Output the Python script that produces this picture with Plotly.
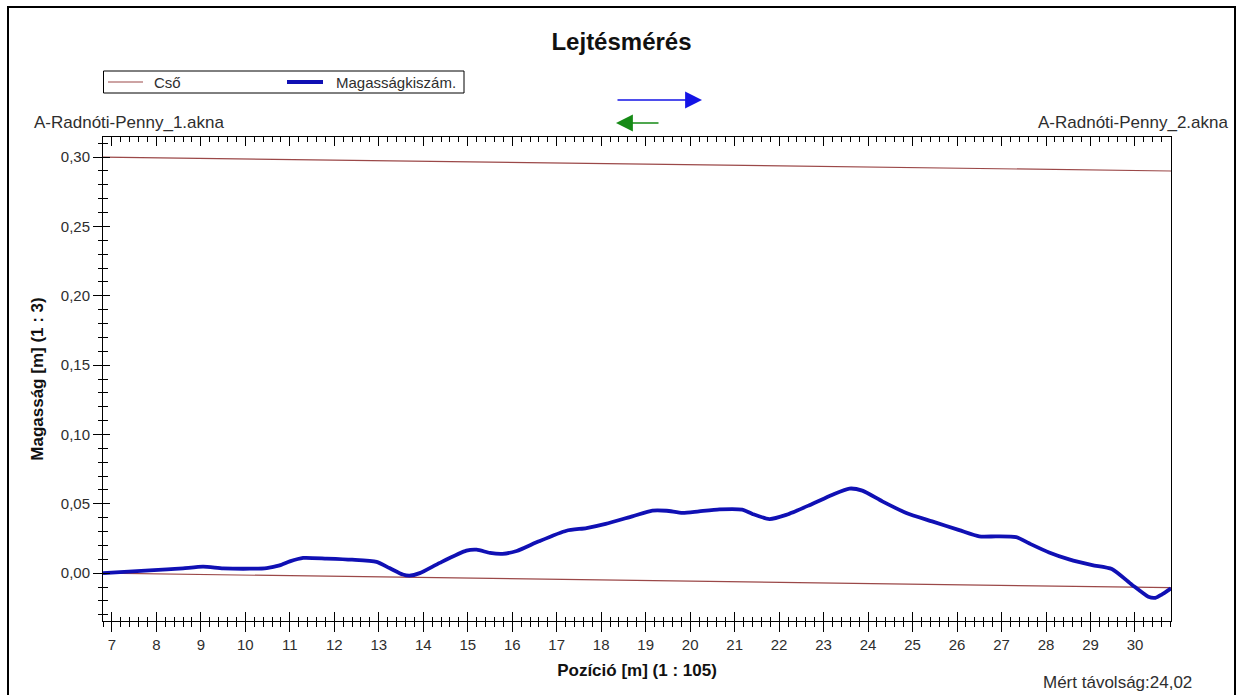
import plotly.graph_objects as go

# ---- data ----
position_m = [6.8, 7.47, 8.24, 8.6, 9.05, 9.5, 10.1, 10.48, 10.77, 11.0, 11.3, 11.83, 12.4,
              12.95, 13.24, 13.54, 13.69, 13.92, 14.37, 14.97, 15.2, 15.5, 15.78, 16.1, 16.6,
              17.22, 17.67, 18.1, 18.7, 19.15, 19.47, 19.83, 20.2, 20.66, 21.17, 21.4, 21.78,
              22.16, 22.68, 23.2, 23.58, 23.87, 24.32, 24.86, 25.44, 26.05, 26.5, 26.88, 27.33,
              27.62, 28.07, 28.52, 29.04, 29.48, 29.93, 30.3, 30.46, 30.6, 30.81]
height_m = [0.000, 0.0013, 0.0027, 0.0035, 0.0047, 0.0035, 0.0032, 0.0037, 0.0056, 0.0085,
            0.011, 0.0105, 0.0097, 0.0081, 0.0037, -0.001, -0.0018, 0.0, 0.0074, 0.0162,
            0.0169, 0.0146, 0.0139, 0.016, 0.023, 0.0306, 0.0325, 0.0355, 0.041, 0.0451,
            0.045, 0.0434, 0.0446, 0.046, 0.0458, 0.0427, 0.039, 0.042, 0.049, 0.0566, 0.061,
            0.0595, 0.0518, 0.0434, 0.0373, 0.031, 0.0265, 0.0265, 0.026, 0.0215, 0.0149,
            0.0099, 0.0058, 0.003, -0.0083, -0.017, -0.0178, -0.0155, -0.011]

pipe_x = [6.8, 30.81]
pipe_top = [0.300, 0.290]
pipe_bottom = [0.000, -0.0105]

x_range = [6.8, 30.81]
y_range = [-0.0345, 0.3145]

series_names = ["Cső", "Magasságkiszám."]
title_text = "Lejtésmérés"
start_label = "A-Radnóti-Penny_1.akna"
end_label = "A-Radnóti-Penny_2.akna"
distance_label = "Mért távolság:24,02"
x_title = "Pozíció [m] (1 : 105)"
y_title = "Magasság [m] (1 : 3)"

FONT = "Arial, Liberation Sans, sans-serif"
PIPE = "#9b4848"
BLUE = "#1010b4"
TXT = "#2e2e2e"

W, H = 1243, 695
L, R, T, B = 103, 72, 137, 74
pw, ph = W - L - R, H - T - B


def px(xp):
    return (xp - L) / pw


def py(yp):
    return (H - B - yp) / ph


fig = go.Figure()
fig.add_trace(go.Scatter(x=pipe_x, y=pipe_top, mode="lines", name=series_names[0],
                         line=dict(color=PIPE, width=1.2), legendgroup="cso"))
fig.add_trace(go.Scatter(x=pipe_x, y=pipe_bottom, mode="lines", name=series_names[0],
                         line=dict(color=PIPE, width=1.2), legendgroup="cso"))
fig.add_trace(go.Scatter(x=position_m, y=height_m, mode="lines", name=series_names[1],
                         line=dict(color=BLUE, width=3.8, shape="spline", smoothing=0.6)))

common_x = dict(range=x_range, tickmode="linear", tick0=7, dtick=1, showgrid=False,
                zeroline=False, tickcolor="black", tickwidth=1)
common_y = dict(range=y_range, tickmode="linear", tick0=0, dtick=0.05, showgrid=False,
                zeroline=False, tickcolor="black", tickwidth=1)

fig.update_layout(
    width=W, height=H,
    margin=dict(l=L, r=R, t=T, b=B),
    paper_bgcolor="white", plot_bgcolor="white",
    separators=", ",
    font=dict(family=FONT, color=TXT, size=15),
    title=dict(text="<b>" + title_text + "</b>", x=0.5, xref="container",
               y=1 - 42 / H, yanchor="middle",
               font=dict(family=FONT, size=24, color="#111111")),
    showlegend=False,
    xaxis=dict(**common_x, ticks="outside", ticklen=10,
               minor=dict(ticks="outside", ticklen=5, tick0=7, dtick=0.2, tickcolor="black"),
               showline=True, linecolor="black", linewidth=1, mirror=True,
               tickfont=dict(family=FONT, size=15, color=TXT),
               title=dict(text="<b>" + x_title + "</b>", standoff=12,
                          font=dict(family=FONT, size=17, color="#111111"))),
    xaxis2=dict(**common_x, overlaying="x", anchor="y", side="bottom", ticks="inside",
                ticklen=9, minor=dict(ticks="inside", ticklen=4, tick0=7, dtick=0.2,
                                      tickcolor="black"),
                showticklabels=False, showline=False),
    xaxis3=dict(**common_x, overlaying="x", anchor="y", side="top", ticks="inside",
                ticklen=9, minor=dict(ticks="inside", ticklen=5, tick0=7, dtick=0.2,
                                      tickcolor="black"),
                showticklabels=False, showline=False),
    yaxis=dict(**common_y, ticks="outside", ticklen=9, tickformat=".2f",
               minor=dict(ticks="outside", ticklen=4, tick0=0, dtick=0.01, tickcolor="black"),
               showline=True, linecolor="black", linewidth=1, mirror=True,
               tickfont=dict(family=FONT, size=15, color=TXT),
               title=dict(text="<b>" + y_title + "</b>", standoff=12,
                          font=dict(family=FONT, size=17, color="#111111"))),
    yaxis2=dict(**common_y, overlaying="y", anchor="x", side="left", ticks="inside",
                ticklen=7, minor=dict(ticks="inside", ticklen=5, tick0=0, dtick=0.01,
                                      tickcolor="black"),
                showticklabels=False, showline=False),
)

# empty helper traces so the overlay tick axes are drawn
fig.add_trace(go.Scatter(x=[], y=[], xaxis="x2", yaxis="y", showlegend=False, hoverinfo="skip"))
fig.add_trace(go.Scatter(x=[], y=[], xaxis="x3", yaxis="y", showlegend=False, hoverinfo="skip"))
fig.add_trace(go.Scatter(x=[], y=[], xaxis="x", yaxis="y2", showlegend=False, hoverinfo="skip"))

# outer frame
fig.add_shape(type="rect", xref="paper", yref="paper",
              x0=px(8), x1=px(1235), y0=py(710), y1=py(7),
              line=dict(color="black", width=2), fillcolor="rgba(0,0,0,0)", layer="above")

# legend box (drawn as in the reference)
fig.add_shape(type="rect", xref="paper", yref="paper",
              x0=px(103.5), x1=px(464), y0=py(93), y1=py(71),
              line=dict(color="black", width=1), fillcolor="white", layer="above")
fig.add_shape(type="line", xref="paper", yref="paper",
              x0=px(108), x1=px(143), y0=py(82), y1=py(82),
              line=dict(color=PIPE, width=1.2), layer="above")
fig.add_shape(type="line", xref="paper", yref="paper",
              x0=px(287), x1=px(323), y0=py(82), y1=py(82),
              line=dict(color=BLUE, width=3.8), layer="above")

anns = [
    dict(text=series_names[0], x=px(152), y=py(82), xanchor="left", yanchor="middle",
         font=dict(family=FONT, size=15, color=TXT)),
    dict(text=series_names[1], x=px(334), y=py(82), xanchor="left", yanchor="middle",
         font=dict(family=FONT, size=15, color=TXT)),
    dict(text=start_label, x=px(32), y=py(122), xanchor="left", yanchor="middle",
         font=dict(family=FONT, size=17, color=TXT)),
    dict(text=end_label, x=px(1036), y=py(122), xanchor="left", yanchor="middle",
         font=dict(family=FONT, size=17, color=TXT)),
    dict(text=distance_label, x=px(1194), y=py(682), xanchor="right", yanchor="middle",
         font=dict(family=FONT, size=17, color=TXT)),
]
for a in anns:
    fig.add_annotation(xref="paper", yref="paper", showarrow=False, **a)

# direction arrows
fig.add_annotation(xref="paper", yref="paper", x=px(702), y=py(100), ax=-86, ay=0,
                   axref="pixel", ayref="pixel", text="", showarrow=True,
                   arrowhead=2, arrowsize=2.6, arrowwidth=1.3, arrowcolor="#1414e6")
fig.add_annotation(xref="paper", yref="paper", x=px(616), y=py(123), ax=44, ay=0,
                   axref="pixel", ayref="pixel", text="", showarrow=True,
                   arrowhead=2, arrowsize=2.6, arrowwidth=1.3, arrowcolor="#168a16")

fig.write_html("out.html", config={"displayModeBar": False},
               post_script="document.body.style.margin='0';document.body.style.overflow='hidden';")
